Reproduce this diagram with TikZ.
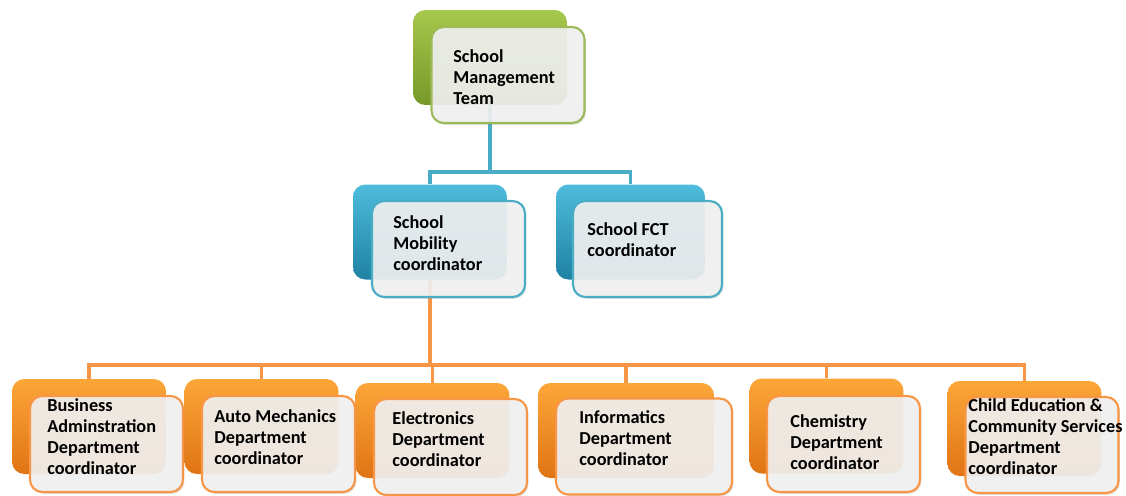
\documentclass[tikz,border=0pt]{standalone}
\usepackage{fontspec}
\setmainfont{Carlito}
\usetikzlibrary{shadows}

\definecolor{accgreen}{RGB}{155,187,89}
\definecolor{accblue}{RGB}{75,172,198}
\definecolor{accorange}{RGB}{247,150,70}

\tikzset{
  backbox/.style={rounded corners=7pt,minimum width=3.08cm,minimum height=1.9cm,inner sep=0pt},
  greenback/.style={backbox,top color={rgb,255:red,166;green,200;blue,76},middle color={rgb,255:red,150;green,186;blue,58},bottom color={rgb,255:red,118;green,152;blue,40}},
  blueback/.style={backbox,top color={rgb,255:red,78;green,188;blue,220},middle color={rgb,255:red,54;green,166;blue,200},bottom color={rgb,255:red,30;green,130;blue,164}},
  orangeback/.style={backbox,top color={rgb,255:red,252;green,166;blue,56},middle color={rgb,255:red,247;green,146;blue,44},bottom color={rgb,255:red,224;green,116;blue,20}},
  frontbox/.style={draw=#1,line width=1.2pt,rounded corners=7pt,fill=white!95!black,fill opacity=0.9,
    minimum width=3.06cm,minimum height=1.92cm,inner sep=0pt,
    drop shadow={opacity=0.25,shadow xshift=0.8pt,shadow yshift=-1pt}},
  lbl/.style={anchor=west,align=left,inner sep=0pt,font=\fontsize{10.4}{12}\selectfont\bfseries},
  blueline/.style={draw=accblue,line width=2pt},
  orangeline/.style={draw=accorange,line width=2.2pt}
}

\begin{document}
\begin{tikzpicture}[x=0.02cm,y=-0.02cm]
\useasboundingbox (0,0) rectangle (1126,495);

\begin{scope}
    \node (mgmtB)[greenback] at (490,57.5) {};
    \node (mobB)[blueback] at (430,232) {};
    \node (fctB)[blueback,minimum width=2.98cm] at (630.5,232) {};
    \node (busiB)[orangeback] at (89,426.5) {};
    \node (autoB)[orangeback] at (261.5,426.5) {};
    \node (elecB)[orangeback] at (432.5,430.5) {};
    \node (infoB)[orangeback,minimum width=3.52cm] at (626,430.5) {};
    \node (chemB)[orangeback] at (826.5,426) {};
    \node (childB)[orangeback] at (1024.5,428.5) {};
\end{scope}

\coordinate (topbus) at (490,172);
\coordinate (midbus) at (430,365);

\begin{scope}[every path/.style={blueline}]
    \draw (mgmtB.south) -- (topbus) -| (mobB.north);
    \draw (topbus) -| (fctB.north);
\end{scope}

\begin{scope}[every path/.style={orangeline}]
    \draw (mobB.south) -- (midbus) -| (busiB.north);
    \draw (midbus) -| (autoB.north);
    \draw (midbus) -| (elecB.north);
    \draw (midbus) -| (infoB.north);
    \draw (midbus) -| (chemB.north);
    \draw (midbus) -| (childB.north);
\end{scope}

\begin{scope}
    \node (mgmt)[frontbox=accgreen] at (508,75) {};
    \node (mob)[frontbox=accblue] at (448.5,249) {};
    \node (fct)[frontbox=accblue,minimum width=2.98cm] at (647.5,249) {};
    \node (busi)[frontbox=accorange] at (106.5,444) {};
    \node (auto)[frontbox=accorange] at (278.5,444) {};
    \node (elec)[frontbox=accorange] at (450.5,447) {};
    \node (info)[frontbox=accorange,minimum width=3.52cm] at (644,446.5) {};
    \node (chem)[frontbox=accorange] at (843.5,444) {};
    \node (child)[frontbox=accorange] at (1042,445) {};
\end{scope}

\begin{scope}[every node/.style={lbl}]
    \node (mgmtT) at (453,77) {School\\Management\\Team};
    \node (mobT) at (393,243) {School\\Mobility\\coordinator};
    \node (fctT) at (587,240) {School FCT\\coordinator};
    \node (busiT) at (47,437) {Business\\Adminstration\\Department\\coordinator};
    \node (autoT) at (214,437) {Auto Mechanics\\Department\\coordinator};
    \node (elecT) at (392,439) {Electronics\\Department\\coordinator};
    \node (infoT) at (579,438) {Informatics\\Department\\coordinator};
    \node (chemT) at (790,442) {Chemistry\\Department\\coordinator};
    \node (childT) at (968,437) {Child Education \&\\Community Services\\Department\\coordinator};
\end{scope}
\end{tikzpicture}
\end{document}
